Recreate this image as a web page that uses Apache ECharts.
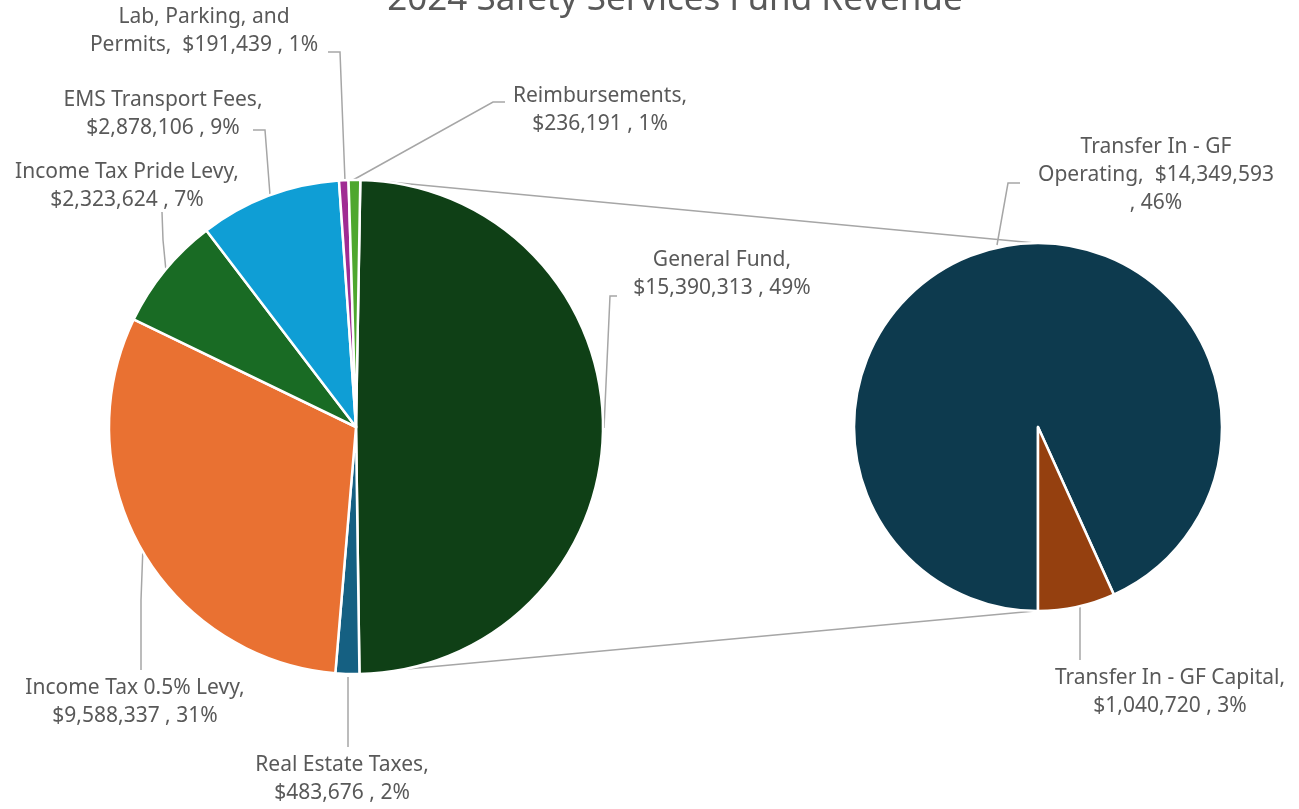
<!DOCTYPE html>
<html>
<head>
<meta charset="utf-8">
<title>2024 Safety Services Fund Revenue</title>
<script src="https://cdn.jsdelivr.net/npm/echarts@6/dist/echarts.min.js"></script>
<style>
  html, body { margin: 0; padding: 0; background: #fff; }
  #chart { width: 1299px; height: 809px; }
</style>
</head>
<body>
<div id="chart"></div>
<script>
// revenue sources (main pie, clockwise from 12 o'clock)
var mainNames = ['General Fund', 'Real Estate Taxes', 'Income Tax 0.5% Levy', 'Income Tax Pride Levy',
                 'EMS Transport Fees', 'Lab, Parking, and Permits', 'Reimbursements'];
var mainValues = [15390313, 483676, 9588337, 2323624, 2878106, 191439, 236191];
// breakdown of the General Fund slice (second pie)
var subNames = ['Transfer In - GF Operating', 'Transfer In - GF Capital'];
var subValues = [14349593, 1040720];

var mainColors = ['#0F4016', '#156082', '#E97132', '#196B24', '#0F9ED5', '#A02B93', '#4EA72E'];
var subColors = ['#0D3A4E', '#95400F'];

var total = mainValues.reduce(function (a, b) { return a + b; }, 0);
var mainC = [356, 427], mainR = 247;
var subC = [1038, 427], subR = 184;

function money(v) { return '$' + v.toLocaleString('en-US'); }
function pct(v) { return Math.round(v / total * 100) + '%'; }

// text wrapping like the original data labels
function labelText(name, v) {
    if (name === 'Lab, Parking, and Permits') return 'Lab, Parking, and\nPermits,  ' + money(v) + ' , ' + pct(v);
    if (name === 'Transfer In - GF Operating') return 'Transfer In - GF\nOperating,  ' + money(v) + '\n, ' + pct(v);
    return name + ',\n' + money(v) + ' , ' + pct(v);
}

// where each label sits and how its leader line runs
var spots = {
    'General Fund': { x: 722, y: 274, line: [[604, 428], [610, 296], [617, 296]] },
    'Real Estate Taxes': { x: 342, y: 779, line: [[348, 677], [348, 710], [348, 747]] },
    'Income Tax 0.5% Levy': { x: 135, y: 702, line: [[143, 546], [141, 600], [141, 670]] },
    'Income Tax Pride Levy': { x: 127, y: 186, line: [[166, 271], [163, 240], [162, 212]] },
    'EMS Transport Fees': { x: 163, y: 114, line: [[270, 195], [265, 130], [253, 130]] },
    'Lab, Parking, and Permits': { x: 204, y: 31, line: [[345, 181], [340, 52], [328, 52]] },
    'Reimbursements': { x: 600, y: 110, line: [[353, 180], [493, 102], [505, 102]] },
    'Transfer In - GF Operating': { x: 1156, y: 175, line: [[997, 245], [1008, 183], [1020, 183]] },
    'Transfer In - GF Capital': { x: 1170, y: 692, line: [[1080, 606], [1080, 630], [1080, 660]] }
};

function onCircle(c, r, deg) {
    var a = deg * Math.PI / 180;
    return [c[0] + r * Math.cos(a), c[1] - r * Math.sin(a)];
}

var labelFont = { fontFamily: 'Noto Sans', fontSize: 21, color: '#595959', lineHeight: 28 };

var myChart = echarts.init(document.getElementById('chart'));

var mainData = mainNames.map(function (n, i) {
    return { name: n, value: mainValues[i], itemStyle: { color: mainColors[i] } };
});
var subData = subNames.map(function (n, i) {
    return { name: n, value: subValues[i], itemStyle: { color: subColors[i] } };
});

var pieLabel = Object.assign({
    show: true,
    position: 'outside',
    formatter: function (p) { return labelText(p.name, p.value); },
    align: 'center'
}, labelFont);

function layoutFor(seriesData) {
    return function (params) {
        var s = spots[seriesData[params.dataIndex].name];
        return {
            x: s.x, y: s.y,
            align: 'center', verticalAlign: 'middle',
            labelLinePoints: s.line
        };
    };
}

// connector lines between the General Fund slice and the breakdown pie
var t1 = onCircle(mainC, mainR, 84.2), t2 = onCircle(subC, subR, 91);
var b1 = onCircle(mainC, mainR, -78.7), b2 = onCircle(subC, subR, -91);

var option = {
    backgroundColor: '#ffffff',
    animation: false,
    title: {
        text: '2024 Safety Services Fund Revenue',
        left: 670,
        top: -22,
        textAlign: 'center',
        textStyle: { fontFamily: 'Noto Sans', fontSize: 35, fontWeight: 'normal', color: '#595959' }
    },
    graphic: [
        { type: 'line', z: 1, shape: { x1: t1[0], y1: t1[1], x2: t2[0], y2: t2[1] },
          style: { stroke: '#A6A6A6', lineWidth: 1.5 } },
        { type: 'line', z: 1, shape: { x1: b1[0], y1: b1[1], x2: b2[0], y2: b2[1] },
          style: { stroke: '#A6A6A6', lineWidth: 1.5 } }
    ],
    series: [
        {
            type: 'pie',
            center: mainC,
            radius: [0, mainR],
            startAngle: 89,
            clockwise: true,
            avoidLabelOverlap: false,
            itemStyle: { borderColor: '#ffffff', borderWidth: 2.5 },
            label: pieLabel,
            labelLine: { show: true, lineStyle: { color: '#A6A6A6', width: 1.5 } },
            labelLayout: layoutFor(mainData),
            emphasis: { disabled: true },
            data: mainData
        },
        {
            type: 'pie',
            center: subC,
            radius: [0, subR],
            startAngle: -90,
            clockwise: true,
            avoidLabelOverlap: false,
            itemStyle: { borderColor: '#ffffff', borderWidth: 2.5 },
            label: pieLabel,
            labelLine: { show: true, lineStyle: { color: '#A6A6A6', width: 1.5 } },
            labelLayout: layoutFor(subData),
            emphasis: { disabled: true },
            data: subData
        }
    ]
};

myChart.setOption(option);
window.addEventListener('resize', function () { myChart.resize(); });
</script>
</body>
</html>
